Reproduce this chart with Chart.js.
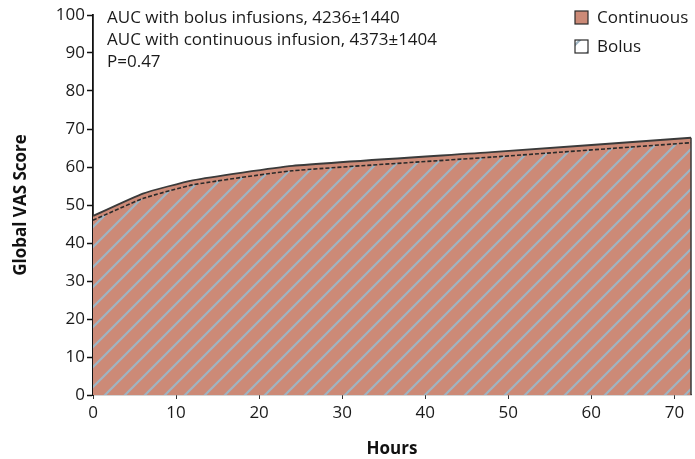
<!DOCTYPE html>
<html>
<head>
<meta charset="utf-8">
<script src="https://cdn.jsdelivr.net/npm/chart.js@4.4.0/dist/chart.umd.min.js"></script>
<style>
  html, body { margin: 0; padding: 0; background: #fff; }
  #wrap { width: 695px; height: 459px; }
</style>
</head>
<body>
<div id="wrap"><canvas id="vasChart" width="695" height="459"></canvas></div>
<script>
const hours = [0, 6, 12, 24, 48, 72];
const continuousVAS = [47.1, 53.0, 56.5, 60.3, 63.9, 67.7];
const bolusVAS = [46.0, 51.7, 55.3, 59.0, 62.6, 66.4];
const seriesNames = ['Continuous', 'Bolus'];
const noteLines = [
    'AUC with bolus infusions, 4236\u00b11440',
    'AUC with continuous infusion, 4373\u00b11404',
    'P=0.47'
];

const SALMON = '#cc8a77';
const HATCH = '#9fb4c2';
const FONT = "'Open Sans', sans-serif";

// diagonal hatch, "/" direction
const makeHatch = (bg) => {
    const size = 20;
    const c = document.createElement('canvas');
    c.width = size;
    c.height = size;
    const g = c.getContext('2d');
    if (bg) {
        g.fillStyle = bg;
        g.fillRect(0, 0, size, size);
    }
    g.strokeStyle = HATCH;
    g.lineWidth = 2.2;
    g.beginPath();
    g.moveTo(-2, size + 2); g.lineTo(size + 2, -2);
    g.moveTo(-2, 2); g.lineTo(2, -2);
    g.moveTo(size - 2, size + 2); g.lineTo(size + 2, size - 2);
    g.stroke();
    return g.createPattern(c, 'repeat');
};

const ctx = document.getElementById('vasChart').getContext('2d');
const hatchFill = makeHatch(null);

const extras = {
    id: 'extras',
    afterDatasetsDraw(chart) {
        const c = chart.ctx;
        const xs = chart.scales.x;
        const ys = chart.scales.y;
        // right edge of the area
        const xr = xs.getPixelForValue(hours[hours.length - 1]);
        c.save();
        c.strokeStyle = '#3a3a3a';
        c.lineWidth = 1.5;
        c.beginPath();
        c.moveTo(xr, ys.getPixelForValue(continuousVAS[continuousVAS.length - 1]));
        c.lineTo(xr, ys.getPixelForValue(0));
        c.stroke();
        c.restore();
    },
    afterDraw(chart) {
        const c = chart.ctx;
        c.save();
        c.fillStyle = '#1a1a1a';
        c.font = '17px ' + FONT;
        c.textBaseline = 'middle';
        noteLines.forEach((t, i) => c.fillText(t, 107, 18 + i * 22));

        // legend
        const bx = 575;
        const boxes = [{ y: 11, fill: SALMON }, { y: 40, fill: makeHatch('#ffffff') }];
        boxes.forEach((b, i) => {
            c.fillStyle = b.fill;
            c.fillRect(bx, b.y, 13, 13);
            c.strokeStyle = '#2a2a2a';
            c.lineWidth = 1.2;
            c.strokeRect(bx, b.y, 13, 13);
            c.fillStyle = '#1a1a1a';
            c.fillText(seriesNames[i], bx + 22, b.y + 7);
        });
        c.restore();
    }
};

new Chart(ctx, {
    type: 'line',
    data: {
        labels: hours,
        datasets: [{
            label: seriesNames[0],
            data: hours.map((h, i) => ({ x: h, y: continuousVAS[i] })),
            borderColor: '#3a3a3a',
            borderWidth: 1.8,
            backgroundColor: SALMON,
            fill: 'origin',
            pointRadius: 0,
            tension: 0.15,
            order: 2
        }, {
            label: seriesNames[1],
            data: hours.map((h, i) => ({ x: h, y: bolusVAS[i] })),
            borderColor: '#2a2a2a',
            borderWidth: 1.6,
            borderDash: [4, 2],
            backgroundColor: hatchFill,
            fill: 'origin',
            pointRadius: 0,
            tension: 0.15,
            order: 1
        }]
    },
    options: {
        responsive: false,
        animation: false,
        layout: { padding: { top: 15, right: 4, left: 0, bottom: 0 } },
        plugins: {
            legend: { display: false },
            tooltip: { enabled: false }
        },
        scales: {
            x: {
                type: 'linear',
                min: 0,
                max: 72,
                afterFit: (s) => { s.height = 64; },
                afterBuildTicks: (s) => { s.ticks = [0, 10, 20, 30, 40, 50, 60, 70].map(v => ({ value: v })); },
                ticks: { color: '#1a1a1a', font: { family: FONT, size: 17 }, padding: 4, maxRotation: 0 },
                grid: { drawOnChartArea: false, tickLength: 4, color: '#333', tickWidth: 1 },
                border: { color: '#555', width: 1.2 },
                title: { display: true, text: 'Hours', color: '#111', font: { family: FONT, size: 17, weight: 'bold' }, padding: { top: 0, bottom: 0 } }
            },
            y: {
                min: 0,
                max: 100,
                afterFit: (s) => { s.width = 93; },
                ticks: { stepSize: 10, color: '#1a1a1a', font: { family: FONT, size: 17 }, padding: 2 },
                grid: { drawOnChartArea: false, tickLength: 6, color: '#111', tickWidth: 1.5 },
                border: { color: '#111', width: 1.8 },
                title: { display: true, text: 'Global VAS Score', color: '#111', font: { family: FONT, size: 17, weight: 'bold' }, padding: { top: 11, bottom: 0 } }
            }
        }
    },
    plugins: [extras]
});
</script>
</body>
</html>
